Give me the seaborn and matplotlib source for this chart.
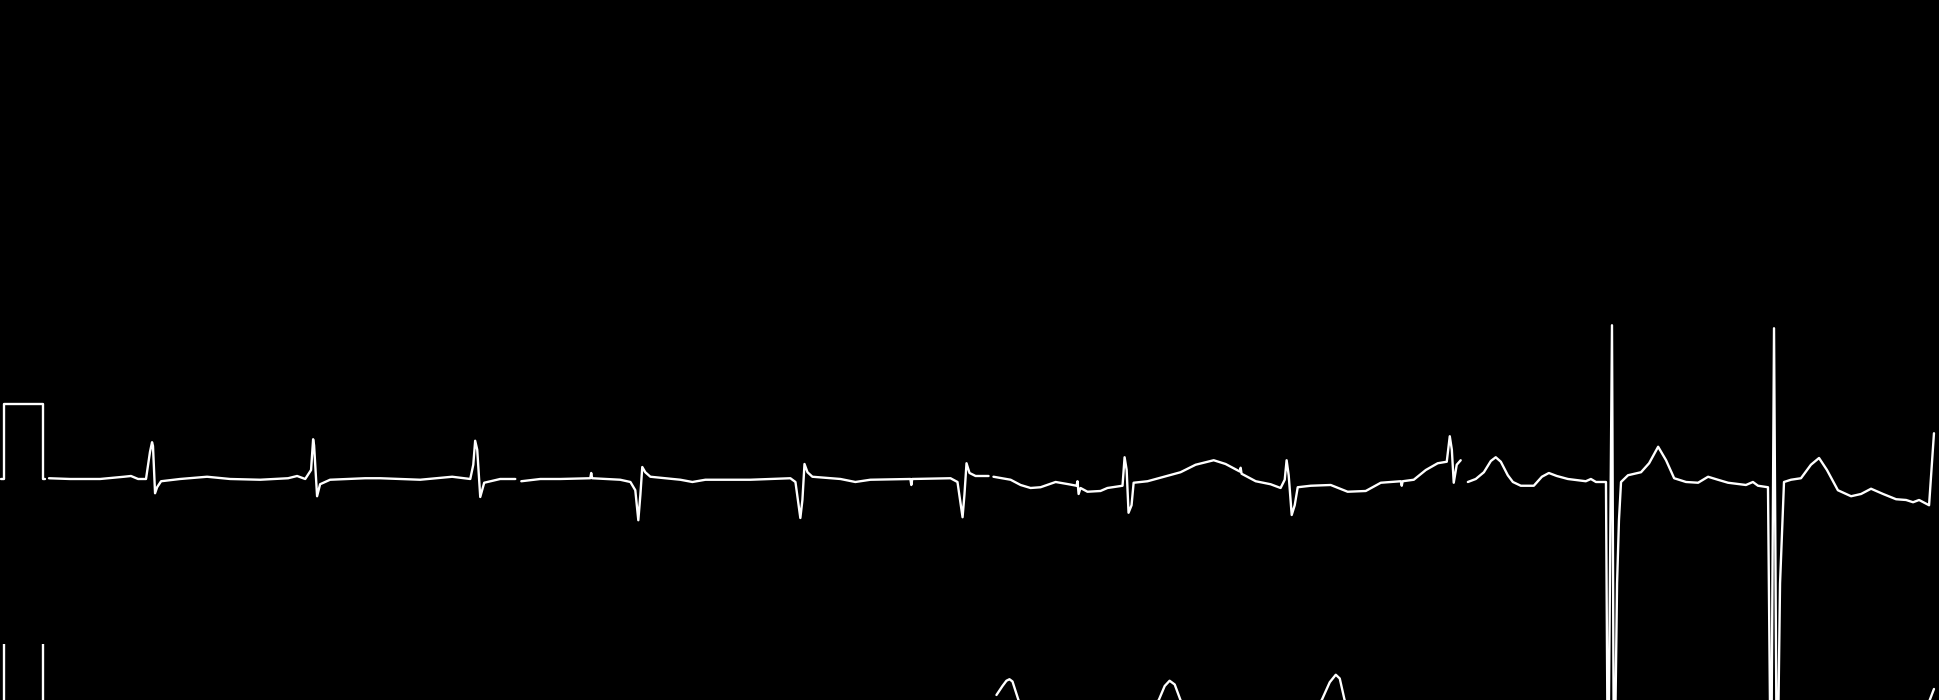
import matplotlib
matplotlib.use('Agg')
import matplotlib.pyplot as plt
import pandas as pd
import seaborn as sns

# ECG strip, time in seconds, amplitude in mV
col_start = [0.0, 2.5, 5.0, 7.5]

# 1 mV calibration pulse
cal_t = [-0.255, -0.239, -0.239, -0.032, -0.032, -0.021]
cal_mv = [0, 0, 1, 1, 0, 0]

# row 1, column 1
lead1_t = [0.000, 0.112, 0.271, 0.398, 0.435, 0.473, 0.515, 0.536, 0.547, 0.552, 0.563, 0.574,
           0.595, 0.696, 0.839, 0.961, 1.121, 1.269, 1.317, 1.360, 1.391, 1.402, 1.407, 1.423,
           1.439, 1.492, 1.678, 1.758, 1.970, 2.140, 2.236, 2.252, 2.262, 2.273, 2.289, 2.310,
           2.395, 2.475]
lead1_mv = [0.01, 0.0, 0.0, 0.03, 0.04, 0.0, 0.0, 0.36, 0.49, 0.44, -0.19, -0.11,
            -0.03, 0.0, 0.03, 0.0, -0.01, 0.01, 0.04, 0.0, 0.12, 0.53, 0.45, -0.23,
            -0.07, -0.01, 0.01, 0.01, -0.01, 0.03, 0.0, 0.19, 0.51, 0.39, -0.24, -0.05,
            0.0, 0.0]

# row 1, column 2
lead2_t = [0.007, 0.108, 0.214, 0.373, 0.378, 0.383, 0.532, 0.586, 0.612, 0.628, 0.639, 0.649,
           0.665, 0.692, 0.851, 0.915, 0.984, 1.223, 1.435, 1.462, 1.488, 1.499, 1.510, 1.526,
           1.552, 1.701, 1.780, 1.860, 2.072, 2.077, 2.082, 2.285, 2.322, 2.349, 2.359, 2.370,
           2.386, 2.418, 2.487]
lead2_mv = [-0.03, 0.0, 0.0, 0.01, 0.08, 0.01, -0.01, -0.04, -0.15, -0.55, -0.21, 0.16,
            0.09, 0.03, -0.01, -0.04, -0.01, -0.01, 0.01, -0.04, -0.52, -0.28, 0.20, 0.09,
            0.03, 0.0, -0.04, -0.01, 0.0, -0.08, 0.0, 0.01, -0.04, -0.51, -0.21, 0.21,
            0.08, 0.04, 0.04]

# row 1, column 3
lead3_t = [0.013, 0.104, 0.157, 0.210, 0.263, 0.343, 0.412, 0.454, 0.459, 0.465, 0.475, 0.512,
           0.581, 0.618, 0.698, 0.709, 0.720, 0.730, 0.746, 0.757, 0.831, 1.006, 1.086, 1.182,
           1.245, 1.320, 1.325, 1.330, 1.405, 1.484, 1.537, 1.559, 1.569, 1.580, 1.596, 1.612,
           1.628, 1.697, 1.803, 1.893, 1.989, 2.069, 2.175, 2.180, 2.185, 2.244, 2.308, 2.371,
           2.419, 2.435, 2.446, 2.456, 2.472, 2.493]
lead3_mv = [0.03, -0.01, -0.08, -0.12, -0.11, -0.04, -0.07, -0.09, -0.03, -0.20, -0.12, -0.17,
            -0.16, -0.12, -0.09, 0.29, 0.12, -0.45, -0.35, -0.05, -0.03, 0.09, 0.19, 0.25,
            0.20, 0.10, 0.15, 0.07, -0.03, -0.07, -0.12, -0.01, 0.25, 0.05, -0.48, -0.35,
            -0.11, -0.09, -0.08, -0.17, -0.16, -0.05, -0.03, -0.09, -0.03, -0.01, 0.12, 0.21,
            0.23, 0.57, 0.39, -0.05, 0.19, 0.25]

# row 1, column 4
lead4_t = [0.031, 0.073, 0.116, 0.153, 0.179, 0.206, 0.243, 0.270, 0.312, 0.381, 0.424, 0.461,
           0.503, 0.562, 0.657, 0.684, 0.711, 0.764, 0.775, 0.796, 0.807, 0.823, 0.833, 0.844,
           0.881, 0.950, 0.993, 1.041, 1.083, 1.126, 1.189, 1.253, 1.306, 1.358, 1.412, 1.507,
           1.544, 1.571, 1.624, 1.640, 1.656, 1.672, 1.688, 1.709, 1.746, 1.799, 1.852, 1.895,
           1.937, 1.995, 2.065, 2.118, 2.171, 2.235, 2.304, 2.357, 2.394, 2.426, 2.479, 2.505]
lead4_mv = [-0.04, 0.0, 0.09, 0.24, 0.29, 0.23, 0.05, -0.04, -0.09, -0.09, 0.03, 0.08,
            0.04, 0.0, -0.03, 0.0, -0.04, -0.04, -4.5, 2.05, -4.5, -1.39, -0.55, -0.04,
            0.05, 0.09, 0.21, 0.43, 0.25, 0.01, -0.04, -0.05, 0.03, -0.01, -0.05, -0.08,
            -0.04, -0.09, -0.11, -4.5, 2.01, -4.5, -1.39, -0.04, -0.01, 0.01, 0.19, 0.28,
            0.12, -0.15, -0.23, -0.20, -0.13, -0.20, -0.27, -0.28, -0.31, -0.28, -0.35, 0.61]

# row 2 (mostly below the visible strip)
lead7_t = [0.029, 0.061, 0.082, 0.098, 0.114, 0.146, 0.210, 0.794, 0.890, 0.922, 0.948, 0.975,
           1.006, 1.070, 1.670, 1.755, 1.798, 1.830, 1.851, 1.877, 1.941, 2.490]
lead7_mv = [0.28, 0.40, 0.47, 0.49, 0.46, 0.21, 0.0, 0.0, 0.21, 0.40, 0.47, 0.42,
            0.21, 0.0, 0.0, 0.21, 0.45, 0.55, 0.50, 0.21, 0.0, 0.0]

lead8_t = [0.03, 2.45, 2.505]
lead8_mv = [0.0, 0.0, 0.36]

row1 = [(lead1_t, lead1_mv), (lead2_t, lead2_mv), (lead3_t, lead3_mv), (lead4_t, lead4_mv)]
row2 = [(lead7_t, lead7_mv, 2), (lead8_t, lead8_mv, 3)]

sns.set_theme(style='dark', rc={'axes.facecolor': 'black', 'figure.facecolor': 'black'})

fig = plt.figure(figsize=(19.4, 7), dpi=100)
ax1 = fig.add_axes([0, 0, 1, 1])
ax2 = fig.add_axes([0, 0, 1, 56 / 700])
ax2.set_facecolor('none')


def draw(ax, t, mv, start):
    df = pd.DataFrame({'t': [x + start for x in t], 'mv': mv})
    sns.lineplot(data=df, x='t', y='mv', ax=ax, color='white', linewidth=1.7,
                 sort=False, estimator=None)


draw(ax1, cal_t, cal_mv, 0.0)
for i, (t, mv) in enumerate(row1):
    draw(ax1, t, mv, col_start[i])

draw(ax2, cal_t, cal_mv, 0.0)
for t, mv, c in row2:
    draw(ax2, t, mv, col_start[c])

for ax in (ax1, ax2):
    ax.set_xlim(-0.26, 10.037)
    ax.set_axis_off()
ax1.set_ylim(-2.947, 6.387)
ax2.set_ylim(0.213, 0.96)

fig.savefig('out.png', dpi=100, facecolor='black')
